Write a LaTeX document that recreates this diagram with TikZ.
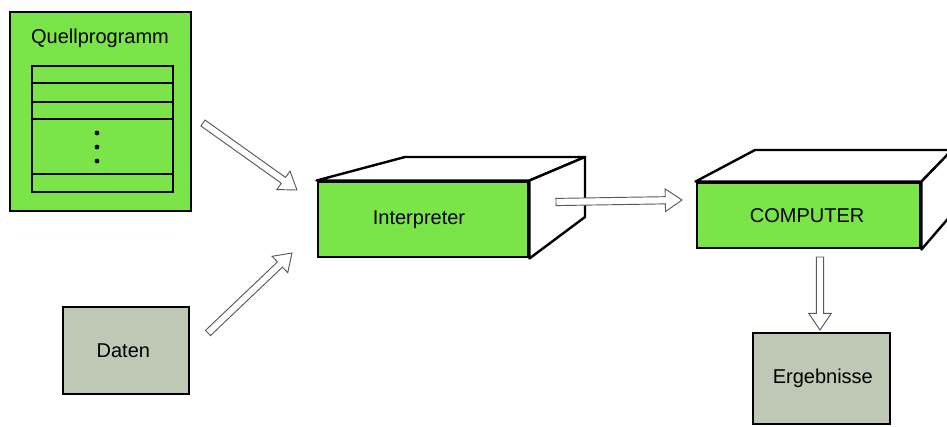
\documentclass[tikz,border=0pt]{standalone}
\usepackage{fontspec}
\setmainfont{Liberation Sans}
\usetikzlibrary{calc,fit,positioning}
\definecolor{progreen}{RGB}{122,228,72}
\definecolor{datgray}{RGB}{190,200,180}

\begin{document}
\begin{tikzpicture}[x=0.75pt,y=-0.75pt]
        \tikzstyle{txt} = [font=\fontsize{15}{18}\selectfont]
        \tikzstyle{greenbox} = [draw,fill=progreen,line width=2.2pt,inner sep=0pt]
        \tikzstyle{graybox} = [draw,fill=datgray,line width=2.2pt,inner sep=0pt]
        \tikzstyle{face} = [draw,fill=white,line width=1.8pt,line join=round]
        \tikzstyle{hollow} = [draw=black!65,fill=white,line width=0.7pt,to path={
          ($(\tikztostart)!2.7pt!90:(\tikztotarget)$)
          -- ($(\tikztotarget)!12.5pt!(\tikztostart)!2.7pt!-90:(\tikztostart)$)
          -- ($(\tikztotarget)!12.5pt!(\tikztostart)!8.5pt!-90:(\tikztostart)$)
          -- (\tikztotarget)
          -- ($(\tikztotarget)!12.5pt!(\tikztostart)!8.5pt!90:(\tikztostart)$)
          -- ($(\tikztotarget)!12.5pt!(\tikztostart)!2.7pt!90:(\tikztostart)$)
          -- ($(\tikztostart)!2.7pt!-90:(\tikztotarget)$) -- cycle}]
        \useasboundingbox (0,0) rectangle (947,426);
        \clip (0,0) rectangle (947,426);

        % source program with its listing
        \node[greenbox,fit={(10,12) (191,211)}] (quell) {};
        \node[txt] (qtitle) at (100,38) {Quellprogramm};
        \node[draw,line width=2.2pt,inner sep=0pt,fit={(32,66) (173,192)}] (listing) {};
        \foreach \y in {83,102,119,174}
          \draw[line width=1.1pt] (listing.west |- 0,\y) -- (listing.east |- 0,\y);
        \foreach \y in {133,147,161}
          \fill (97,\y) circle (1.8pt);

        % data and results
        \node[graybox,fit={(63,307) (189,394)},label={[txt,xshift=-2pt]center:Daten}] (daten) {};
        \node[graybox,fit={(753,333) (890,424)},label={[txt,xshift=1pt]center:Ergebnisse}] (erg) {};

        % interpreter box
        \node[greenbox,fit={(318,182) (528,257)},label={[txt,xshift=-3pt]center:Interpreter}] (interp) {};
        \draw[face] (interp.north west) -- (405,157) -- (585,157) -- (interp.north east) -- cycle;
        \draw[face] (interp.north east) -- (585,157) -- (585,217) -- (interp.south east) -- cycle;

        % computer box
        \node[greenbox,fit={(697,183) (920,248)},label={[txt,xshift=-1pt]center:COMPUTER}] (comp) {};
        \draw[face] (comp.north west) -- (755,150) -- (952,150) -- (comp.north east) -- cycle;
        \draw[face] (comp.north east) -- (952,150) -- (952,214) -- (comp.south east) -- cycle;

        % arrows
        \coordinate (q-out) at (203,123);
        \coordinate (i-in1) at (297,190);
        \coordinate (d-out) at (208,333);
        \coordinate (i-in2) at (292,253);
        \coordinate (i-out) at (556,202);
        \coordinate (c-in) at (682,200);
        \coordinate (c-out) at (820,257);
        \coordinate (e-in) at (820,330);
        \path[hollow] (q-out) to (i-in1);
        \path[hollow] (d-out) to (i-in2);
        \path[hollow] (i-out) to (c-in);
        \path[hollow] (c-out) to (e-in);
      \end{tikzpicture}
\end{document}
